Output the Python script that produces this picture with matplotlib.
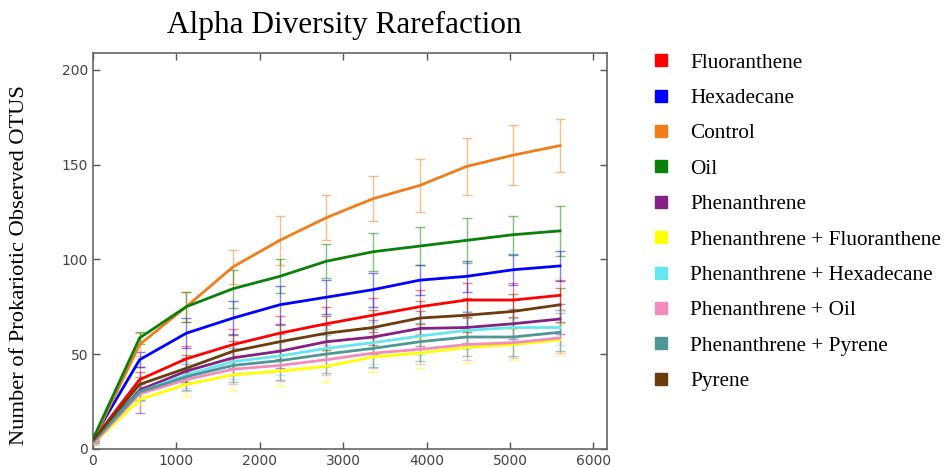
import matplotlib
matplotlib.use("Agg")
import matplotlib.pyplot as plt
from matplotlib.lines import Line2D

# rarefaction depths (sequences per sample)
depth = [10, 560, 1120, 1680, 2240, 2800, 3360, 3920, 4480, 5040, 5600]

names = ["Fluoranthene", "Hexadecane", "Control", "Oil", "Phenanthrene",
         "Phenanthrene + Fluoranthene", "Phenanthrene + Hexadecane",
         "Phenanthrene + Oil", "Phenanthrene + Pyrene", "Pyrene"]
colors = ["#ff0000", "#0000ff", "#f07d1a", "#0a800a", "#832283",
          "#ffff00", "#66e6f2", "#f28cbf", "#4f9696", "#6b3c0c"]

# mean observed OTUs
fluoranthene = [5, 36.5, 47.5, 55, 61, 66, 70.5, 75, 78.5, 78.5, 81]
hexadecane = [6, 47, 61, 69, 76, 80, 84, 89, 91, 94.5, 96.5]
control = [5, 55, 75, 96, 110, 122, 132, 139, 149, 155, 160]
oil = [6, 58.5, 75, 84.5, 91, 99, 104, 107, 110, 113, 115]
phenanthrene = [4, 31, 41, 48, 51.5, 56.5, 59, 63.5, 64, 66, 68.5]
phen_fluor = [3, 26, 34, 39, 41, 43.5, 48.5, 50.5, 53.5, 55, 57.5]
phen_hexa = [4, 30, 39, 46, 49, 53, 56, 59.5, 62.5, 64, 64]
phen_oil = [3, 29, 36.5, 42, 44, 47, 50.5, 52.5, 55, 56, 58.5]
phen_pyrene = [4, 30, 38, 44, 46.5, 50, 53, 56.5, 59, 59, 61.5]
pyrene = [5, 34, 42.5, 51.5, 56.5, 61, 64, 69, 70.5, 72.5, 76]

# standard deviations
fluoranthene_err = [1, 4, 7, 8, 9, 9, 9, 9, 9, 9, 8]
hexadecane_err = [1, 4, 8, 9, 10, 9, 9, 8, 8, 8, 8]
control_err = [1, 6, 8, 9, 13, 12, 12, 14, 15, 16, 14]
oil_err = [1, 3, 8, 10, 9, 9, 10, 10, 12, 10, 13]
phenanthrene_err = [1, 12, 7, 9, 9, 9, 9, 9, 8, 8, 8]
phen_fluor_err = [1, 3, 6, 8, 8, 8, 8, 8, 8, 8, 8]
phen_hexa_err = [1, 4, 7, 9, 10, 10, 11, 10, 10, 9, 9]
phen_oil_err = [1, 4, 6, 8, 8, 8, 8, 8, 8, 8, 8]
phen_pyrene_err = [1, 4, 7, 9, 10, 10, 10, 10, 10, 10, 10]
pyrene_err = [1, 4, 7, 9, 9, 9, 9, 9, 9, 9, 9]

means = [fluoranthene, hexadecane, control, oil, phenanthrene,
         phen_fluor, phen_hexa, phen_oil, phen_pyrene, pyrene]
errs = [fluoranthene_err, hexadecane_err, control_err, oil_err, phenanthrene_err,
        phen_fluor_err, phen_hexa_err, phen_oil_err, phen_pyrene_err, pyrene_err]

serif = "Liberation Serif"

fig = plt.figure(figsize=(9.48, 4.67), dpi=100)
ax = fig.add_axes([0.098, 0.039, 0.542, 0.848])

# error bars first, lines on top
for m, e, c in zip(means, errs, colors):
    ax.errorbar(depth, m, yerr=e, fmt="none", ecolor=c, elinewidth=1,
                capsize=3.5, alpha=0.5, zorder=2)
for m, c in zip(means, colors):
    ax.plot(depth, m, color=c, lw=2, zorder=3)

ax.set_xlim(0, 6160)
ax.set_ylim(0, 209)
ax.set_xticks(range(0, 6001, 1000))
ax.set_yticks(range(0, 201, 50))
ax.tick_params(direction="in", top=True, right=True, length=5, width=1,
               colors="#555555", labelsize=10, labelcolor="#444444")
for s in ax.spines.values():
    s.set_color("#666666")
    s.set_linewidth(1.2)

ax.set_title("Alpha Diversity Rarefaction", family=serif, fontsize=22.5, pad=14,
             x=0.49)
ax.set_ylabel("Number of Prokariotic Observed OTUS", family=serif, fontsize=16.2)
ax.yaxis.set_label_coords(-0.125, 0.465)

handles = [Line2D([], [], ls="none", marker="s", markersize=9, color=c,
                  markeredgecolor=c) for c in colors]
fig.legend(handles, names, loc="upper left", bbox_to_anchor=(0.655, 0.928),
           frameon=False, prop={"family": serif, "size": 15.3},
           handletextpad=0.35, labelspacing=0.73)

fig.savefig("out.png", dpi=100)
